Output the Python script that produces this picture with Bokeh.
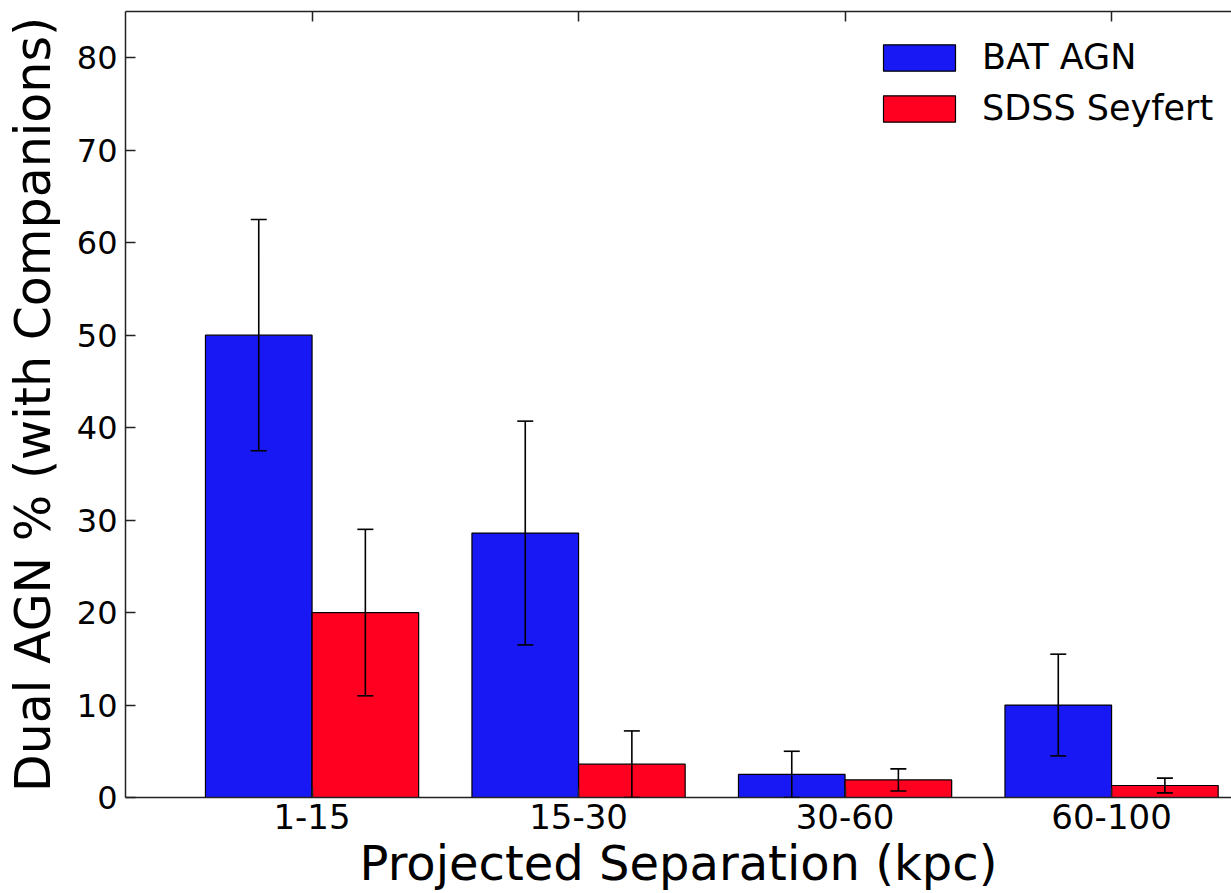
from bokeh.plotting import figure
from bokeh.models import (ColumnDataSource, Range1d, FixedTicker, LinearAxis,
                          Whisker, TeeHead, Legend, LegendItem)
from bokeh.embed import file_html
from bokeh.resources import INLINE

# ---- data ----
categories = ["1-15", "15-30", "30-60", "60-100"]
bat_agn = [50.0, 28.6, 2.5, 10.0]
bat_err = [12.5, 12.1, 2.5, 5.5]
sdss_seyfert = [20.0, 3.6, 1.9, 1.3]
sdss_err = [9.0, 3.6, 1.2, 0.8]
y_ticks = [0, 10, 20, 30, 40, 50, 60, 70, 80]

FONT = "DejaVu Sans"
BLUE = "#1818f5"
RED = "#ff0020"
AXC = "#222222"

idx = list(range(len(categories)))
bar_w = 0.4
src_bat = ColumnDataSource(dict(
    x=[i - bar_w / 2 for i in idx], top=bat_agn,
    upper=[v + e for v, e in zip(bat_agn, bat_err)],
    lower=[v - e for v, e in zip(bat_agn, bat_err)]))
src_sdss = ColumnDataSource(dict(
    x=[i + bar_w / 2 for i in idx], top=sdss_seyfert,
    upper=[v + e for v, e in zip(sdss_seyfert, sdss_err)],
    lower=[v - e for v, e in zip(sdss_seyfert, sdss_err)]))

p = figure(width=1231, height=893, output_backend="svg", toolbar_location=None,
           x_range=Range1d(-0.70, 3.45), y_range=Range1d(0, 85),
           min_border_left=125, min_border_top=11, min_border_right=0,
           min_border_bottom=96)
p.outline_line_color = None
p.xgrid.visible = False
p.ygrid.visible = False
p.background_fill_color = "white"
p.border_fill_color = "white"

r1 = p.vbar(x="x", top="top", bottom=0, width=bar_w, source=src_bat,
            fill_color=BLUE, line_color="black", line_width=1.2)
r2 = p.vbar(x="x", top="top", bottom=0, width=bar_w, source=src_sdss,
            fill_color=RED, line_color="black", line_width=1.2)

for src in (src_bat, src_sdss):
    w = Whisker(source=src, base="x", upper="upper", lower="lower",
                level="annotation",
                line_color="black", line_width=1.6,
                upper_head=TeeHead(size=16, line_color="black", line_width=1.6),
                lower_head=TeeHead(size=16, line_color="black", line_width=1.6))
    p.add_layout(w)

# bottom axis
xa = p.xaxis[0]
xa.ticker = FixedTicker(ticks=idx)
xa.major_label_overrides = {i: c for i, c in zip(idx, categories)}
xa.axis_label = "Projected Separation (kpc)"
xa.axis_label_text_font = FONT
xa.axis_label_text_font_size = "48px"
xa.axis_label_text_font_style = "normal"
xa.axis_label_text_color = "black"
xa.axis_label_standoff = 3
xa.major_label_text_font = FONT
xa.major_label_text_font_size = "34px"
xa.major_label_text_color = "black"
xa.major_label_standoff = 6
xa.major_tick_in = 10
xa.major_tick_out = 0
xa.minor_tick_line_color = None
xa.axis_line_color = AXC
xa.axis_line_width = 1.5
xa.major_tick_line_color = AXC
xa.major_tick_line_width = 1.5

# left axis
ya = p.yaxis[0]
ya.ticker = FixedTicker(ticks=y_ticks)
ya.axis_label = "Dual AGN % (with Companions)"
ya.axis_label_text_font = FONT
ya.axis_label_text_font_size = "49px"
ya.axis_label_text_font_style = "normal"
ya.axis_label_text_color = "black"
ya.axis_label_standoff = 12
ya.major_label_text_font = FONT
ya.major_label_text_font_size = "32px"
ya.major_label_text_color = "black"
ya.major_label_standoff = 8
ya.major_tick_in = 10
ya.major_tick_out = 0
ya.minor_tick_line_color = None
ya.axis_line_color = AXC
ya.axis_line_width = 1.5
ya.major_tick_line_color = AXC
ya.major_tick_line_width = 1.5

# top axis (frame line with inward ticks, labels not drawn)
ta = LinearAxis(ticker=FixedTicker(ticks=idx), major_label_text_font_size="0px",
                major_label_text_color=None,
                major_label_standoff=0, major_tick_in=10, major_tick_out=0,
                minor_tick_line_color=None, axis_line_color=AXC,
                axis_line_width=1.5, major_tick_line_color=AXC,
                major_tick_line_width=1.5)
p.add_layout(ta, "above")

legend = Legend(items=[LegendItem(label="BAT AGN", renderers=[r1]),
                       LegendItem(label="SDSS Seyfert", renderers=[r2])],
                location=(749, 669), border_line_color=None,
                background_fill_alpha=0, padding=0, margin=0, spacing=11,
                glyph_width=90, glyph_height=33, label_height=40,
                label_standoff=18, label_text_font=FONT,
                label_text_font_size="35px", label_text_color="black")
p.add_layout(legend)

open("out.html", "w").write(file_html(p, INLINE))
